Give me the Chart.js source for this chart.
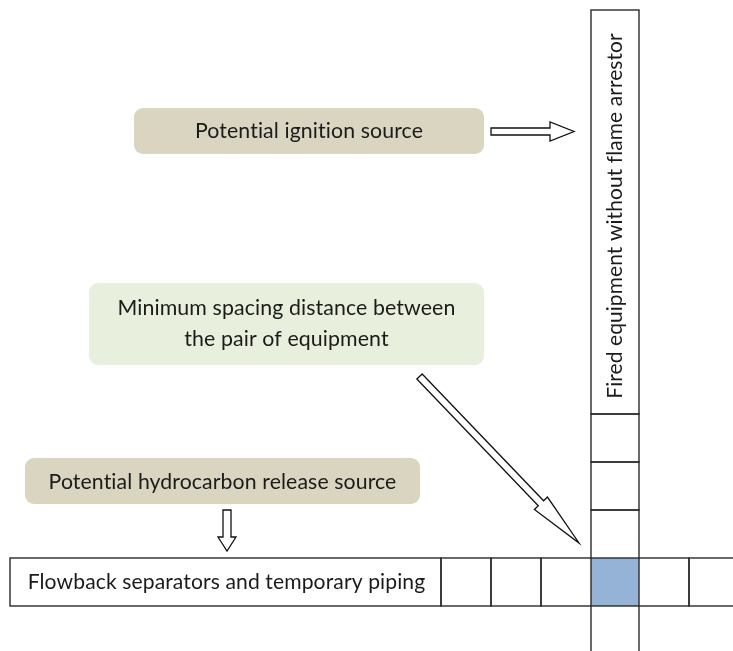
<!DOCTYPE html>
<html>
<head>
<meta charset="utf-8">
<script src="https://cdn.jsdelivr.net/npm/chart.js@4.4.1/dist/chart.umd.min.js"></script>
<style>
  html, body { margin: 0; padding: 0; background: #fff; }
  #chart { display: block; }
</style>
</head>
<body>
<canvas id="chart" width="733" height="651"></canvas>
<script>
// datos del diagrama (matriz de distancias entre equipos)
const rowLabel = 'Flowback separators and temporary piping';
const columnLabel = 'Fired equipment without flame arrestor';
const rowCells = [rowLabel, '', '', '', '', '', ''];
const columnCells = [columnLabel, '', '', '', '', ''];
const highlightCell = [4, 4]; // celda compartida: indice en la fila, indice en la columna
const noteTexts = [
    ['Potential ignition source'],
    ['Minimum spacing distance between', 'the pair of equipment'],
    ['Potential hydrocarbon release source']
];

// layout en unidades de la escala (0..733 x 0..651)
const rowEdgesX = [10, 441, 491, 541, 591, 639, 689, 745];
const rowEdgesY = [558, 606];
const colEdgesX = [591, 639];
const colEdgesY = [10, 414, 462, 510, 558, 606, 660];

const noteBoxes = [
    { x0: 134, x1: 484, y0: 108, y1: 154, fill: '#d9d5c1', lines: [131.5], widths: [229] },
    { x0: 89, x1: 484, y0: 283, y1: 365, fill: '#e8efdc', lines: [308.5, 339.5], widths: [339, 205] },
    { x0: 25, x1: 420, y0: 458, y1: 504, fill: '#d9d5c1', lines: [482.5], widths: [349] }
];

const arrows = [
    { from: [491, 131.5], to: [574, 131.5], w: 3.5, hw: 9.5, hl: 24 },
    { from: [419.5, 376.5], to: [579, 543], w: 3.7, hw: 9, hl: 55 },
    { from: [227, 510], to: [227, 551], w: 4, hw: 9, hl: 14 }
];

const FONT = 'Lato, "Open Sans", sans-serif';
const TEXT_COLOR = '#1b1b1b';
const LINE_COLOR = '#2a2a2a';

// el letterSpacing minimo evita las ligaduras de Lato ("ti")
function fitFont(ctx, text, target) {
    ctx.letterSpacing = '0.1px';
    ctx.font = '16px ' + FONT;
    const w = ctx.measureText(text).width;
    const size = 16 * target / w;
    return size.toFixed(2) + 'px ' + FONT;
}

function drawArrow(ctx, sx, sy, a) {
    const x1 = sx(a.from[0]), y1 = sy(a.from[1]);
    const x2 = sx(a.to[0]), y2 = sy(a.to[1]);
    const len = Math.hypot(x2 - x1, y2 - y1);
    const ang = Math.atan2(y2 - y1, x2 - x1);
    ctx.save();
    ctx.translate(x1, y1);
    ctx.rotate(ang);
    ctx.beginPath();
    ctx.moveTo(0, -a.w);
    ctx.lineTo(len - a.hl, -a.w);
    ctx.lineTo(len - a.hl, -a.hw);
    ctx.lineTo(len, 0);
    ctx.lineTo(len - a.hl, a.hw);
    ctx.lineTo(len - a.hl, a.w);
    ctx.lineTo(0, a.w);
    ctx.closePath();
    ctx.fillStyle = '#ffffff';
    ctx.fill();
    ctx.lineWidth = 1.3;
    ctx.strokeStyle = '#111';
    ctx.lineJoin = 'miter';
    ctx.stroke();
    ctx.restore();
}

const diagramPlugin = {
    id: 'diagram',
    afterDraw(chart) {
        const ctx = chart.ctx;
        const xs = chart.scales.x, ys = chart.scales.y;
        const sx = v => xs.getPixelForValue(v);
        const sy = v => ys.getPixelForValue(v);

        ctx.save();
        ctx.fillStyle = '#ffffff';
        ctx.fillRect(0, 0, chart.width, chart.height);

        // cajas de notas
        noteBoxes.forEach((b, i) => {
            ctx.beginPath();
            ctx.roundRect(sx(b.x0), sy(b.y0), sx(b.x1) - sx(b.x0), sy(b.y1) - sy(b.y0), 9);
            ctx.fillStyle = b.fill;
            ctx.fill();
            ctx.fillStyle = TEXT_COLOR;
            ctx.textAlign = 'center';
            ctx.textBaseline = 'middle';
            noteTexts[i].forEach((t, j) => {
                ctx.font = fitFont(ctx, t, b.widths[j]);
                ctx.fillText(t, sx((b.x0 + b.x1) / 2), sy(b.lines[j]));
            });
        });

        // celda resaltada
        const hx0 = rowEdgesX[highlightCell[0]], hx1 = rowEdgesX[highlightCell[0] + 1];
        const hy0 = colEdgesY[highlightCell[1]], hy1 = colEdgesY[highlightCell[1] + 1];
        ctx.fillStyle = '#95b3d7';
        ctx.fillRect(sx(hx0), sy(hy0), sx(hx1) - sx(hx0), sy(hy1) - sy(hy0));

        ctx.strokeStyle = LINE_COLOR;
        ctx.lineWidth = 1.4;

        // fila horizontal
        rowCells.forEach((c, i) => {
            if (i === highlightCell[0]) return;
            ctx.strokeRect(sx(rowEdgesX[i]), sy(rowEdgesY[0]), sx(rowEdgesX[i + 1]) - sx(rowEdgesX[i]), sy(rowEdgesY[1]) - sy(rowEdgesY[0]));
        });
        // columna vertical
        columnCells.forEach((c, i) => {
            if (i === highlightCell[1]) return;
            ctx.strokeRect(sx(colEdgesX[0]), sy(colEdgesY[i]), sx(colEdgesX[1]) - sx(colEdgesX[0]), sy(colEdgesY[i + 1]) - sy(colEdgesY[i]));
        });

        // textos de equipos
        ctx.fillStyle = TEXT_COLOR;
        ctx.textAlign = 'center';
        ctx.textBaseline = 'middle';
        ctx.font = fitFont(ctx, rowCells[0], 399);
        ctx.fillText(rowCells[0], sx(226.5), sy(582));

        ctx.save();
        ctx.translate(sx(615), sy(216));
        ctx.rotate(-Math.PI / 2);
        ctx.font = fitFont(ctx, columnCells[0], 367);
        ctx.fillText(columnCells[0], 0, 0);
        ctx.restore();

        // flechas
        arrows.forEach(a => drawArrow(ctx, sx, sy, a));
        ctx.restore();
    }
};

new Chart(document.getElementById('chart'), {
    type: 'scatter',
    data: { datasets: [{ data: [] }] },
    options: {
        responsive: false,
        animation: false,
        layout: { padding: 0 },
        plugins: { legend: { display: false }, tooltip: { enabled: false } },
        scales: {
            x: { type: 'linear', min: 0, max: 733, display: false },
            y: { type: 'linear', min: 0, max: 651, reverse: true, display: false }
        }
    },
    plugins: [diagramPlugin]
});
</script>
</body>
</html>
